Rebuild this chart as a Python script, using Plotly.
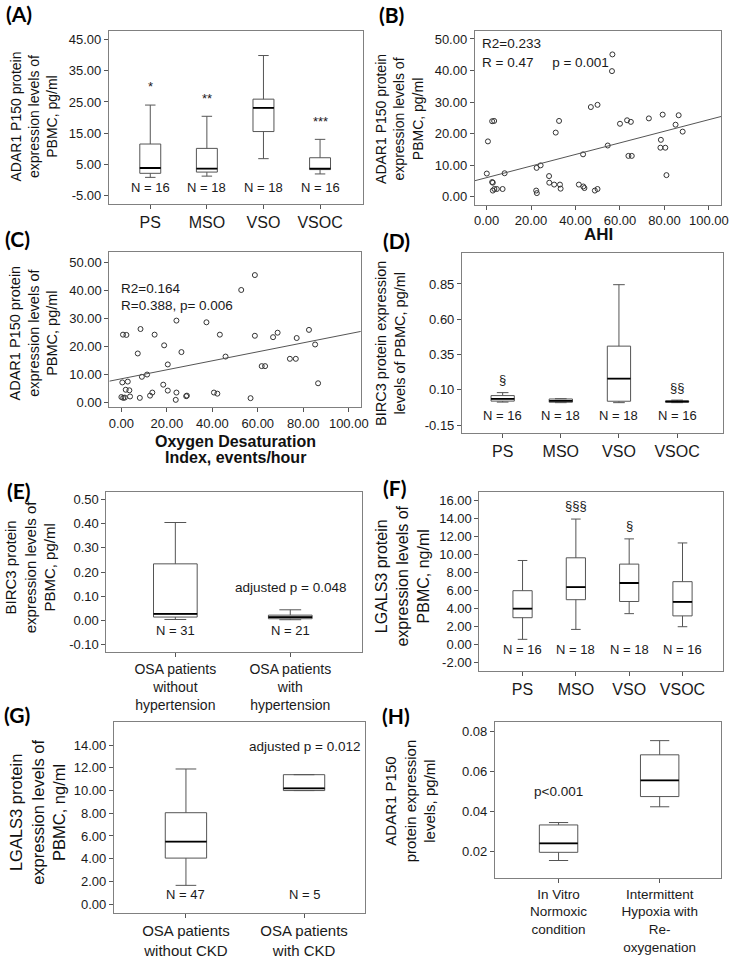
import numpy as np
import plotly.graph_objects as go

W, H = 733, 959
FONT = "Liberation Sans, Arial, sans-serif"
LABEL_FONT = "Lato, Open Sans, sans-serif"

# ------------------------------------------------------------------ data
groups4 = ["PS", "MSO", "VSO", "VSOC"]
n_groups4 = ["N = 16", "N = 18", "N = 18", "N = 16"]

# (A) ADAR1 P150 (pg/ml) by severity group
a_low = [0.8, 1.2, 6.8, 1.9]
a_q1 = [2.1, 2.5, 15.5, 3.3]
a_med = [3.8, 3.6, 23.1, 3.6]
a_q3 = [11.5, 10.1, 25.9, 7.1]
a_high = [24.0, 20.4, 39.9, 13.0]
a_sig = ["*", "**", "", "***"]

# (B) ADAR1 P150 vs AHI
b_ahi = [2.5, 3.4, 0.6, 0.1, 2.5, 2.8, 2.8, 3.5, 4.6, 7.2,
         8.1, 22.5, 24.3, 22.3, 22.6, 28.1, 28.2, 30.4, 33.0, 33.3,
         31.1, 32.6, 41.5, 43.5, 44.0, 43.4, 46.9, 48.7, 49.9, 49.9,
         56.6, 56.4, 60.0, 63.2, 64.9, 73.0, 79.2, 86.4, 85.0, 88.2,
         78.4, 78.2, 80.4, 54.5, 63.8, 65.3, 80.9]
b_adar = [23.9, 24.0, 17.5, 7.3, 4.6, 4.4, 1.9, 2.4, 2.4, 2.4,
          7.4, 9.1, 9.9, 1.9, 1.1, 6.5, 4.4, 3.8, 3.8, 2.5,
          20.3, 24.0, 3.8, 3.2, 2.7, 13.4, 28.4, 1.9, 2.4, 29.1,
          45.1, 39.8, 23.1, 24.2, 23.7, 24.8, 26.0, 25.8, 22.8, 20.6,
          18.0, 15.5, 15.5, 16.2, 12.9, 12.9, 6.8]
b_fit = [6.0, 0.184]  # intercept, slope
b_stats = ["R2=0.233", "R = 0.47\u00a0\u00a0\u00a0\u00a0\u00a0p = 0.001"]

# (C) ADAR1 P150 vs Oxygen Desaturation Index
c_odi = [0.7, 2.2, 8.4, 14.6, 24.2, 37.4, 43.3, 18.8, 7.2, 26.4,
         45.8, 20.4, 9.0, 11.3, 0.4, 2.8, 1.9, 3.5, 0.0, 0.8,
         1.5, 3.8, 8.1, 12.6, 13.6, 18.4, 20.4, 24.2, 23.9, 28.8,
         28.5, 40.7, 42.2, 58.7, 52.7, 58.7, 66.7, 68.7, 77.1, 82.5,
         85.2, 74.1, 76.7, 61.7, 63.2, 86.5, 56.8]
c_adar = [24.2, 24.1, 26.2, 24.2, 29.2, 28.6, 24.2, 20.4, 17.5, 18.0,
          16.4, 13.6, 9.2, 10.0, 7.2, 7.5, 4.6, 4.4, 2.0, 1.7,
          1.8, 2.2, 1.7, 2.5, 3.6, 6.4, 4.3, 3.6, 1.0, 2.5,
          2.3, 3.6, 3.2, 45.4, 40.1, 23.8, 23.3, 24.9, 23.0, 25.9,
          20.7, 15.6, 15.6, 13.0, 13.0, 6.9, 1.6]
c_fit = [8.5, 0.160]
c_stats = ["R2=0.164", "R=0.388, p= 0.006"]

# (D) BIRC3 (pg/ml) by severity group
d_low = [0.014, 0.010, 0.010, 0.010]
d_q1 = [0.021, 0.013, 0.020, 0.014]
d_med = [0.037, 0.022, 0.180, 0.018]
d_q3 = [0.060, 0.036, 0.410, 0.021]
d_high = [0.081, 0.038, 0.845, 0.028]
d_sig = ["§", "", "", "§§"]

# (E) BIRC3 by hypertension
e_groups = ["OSA patients<br>without<br>hypertension", "OSA patients<br>with<br>hypertension"]
e_n = ["N = 31", "N = 21"]
e_low = [0.004, 0.003]
e_q1 = [0.014, 0.007]
e_med = [0.027, 0.014]
e_q3 = [0.234, 0.022]
e_high = [0.405, 0.044]
e_p = "adjusted p = 0.048"

# (F) LGALS3 (ng/ml) by severity group
f_low = [0.6, 1.7, 3.45, 2.0]
f_q1 = [3.0, 5.0, 4.8, 3.2]
f_med = [4.0, 6.4, 6.85, 4.75]
f_q3 = [6.0, 9.65, 8.95, 7.0]
f_high = [9.35, 13.95, 11.75, 11.3]
f_sig = ["", "§§§", "§", ""]

# (G) LGALS3 by CKD
g_groups = ["OSA patients<br>without CKD", "OSA patients<br>with CKD"]
g_n = ["N = 47", "N = 5"]
g_low = [1.65, 10.0]
g_q1 = [4.05, 10.0]
g_med = [5.5, 10.2]
g_q3 = [8.05, 11.4]
g_high = [11.9, 11.4]
g_p = "adjusted p = 0.012"

# (H) ADAR1 P150 in vitro
h_groups = ["In Vitro<br>Normoxic<br>condition", "Intermittent<br>Hypoxia with<br>Re-<br>oxygenation"]
h_low = [0.0154, 0.0423]
h_q1 = [0.0195, 0.0474]
h_med = [0.0240, 0.0555]
h_q3 = [0.0332, 0.0683]
h_high = [0.0344, 0.0754]
h_p = "p<0.001"

# ------------------------------------------------------------------ helpers
fig = go.Figure()
layout = dict(width=W, height=H, margin=dict(l=0, r=0, t=0, b=0),
              paper_bgcolor="white", plot_bgcolor="white", showlegend=False)
annotations = []

LINE = "#555555"
FRAME = "#808080"
TXT = "#1a1a1a"


def ids(k):
    s = "" if k == 1 else str(k)
    return "x" + s, "y" + s, "xaxis" + s, "yaxis" + s


def num_ticks(start, stop, step):
    vals = np.round(np.arange(start, stop + step / 2, step), 6)
    return [float(v) for v in vals], ["{:.2f}".format(v) for v in vals]


def make_axes(k, px, py, xr, yr, yt, xt=None, cat=None, catsize=16):
    xa, ya, xkey, ykey = ids(k)
    base = dict(showline=True, linecolor=FRAME, linewidth=1, mirror=True,
                ticks="outside", ticklen=4, tickcolor="#555", showgrid=False,
                zeroline=False, fixedrange=True,
                tickfont=dict(family=FONT, size=13, color=TXT))
    xd = [px[0] / W, px[1] / W]
    yd = [1 - py[1] / H, 1 - py[0] / H]
    yv, ytx = num_ticks(*yt)
    xaxis = dict(base, domain=xd, range=xr, anchor=ya)
    if cat is not None:
        xaxis.update(tickvals=list(range(len(cat))), ticktext=cat,
                     tickfont=dict(family=FONT, size=catsize, color=TXT))
    else:
        xv, xtx = num_ticks(*xt)
        xaxis.update(tickvals=xv, ticktext=xtx)
    yaxis = dict(base, domain=yd, range=yr, anchor=xa, tickvals=yv, ticktext=ytx)
    layout[xkey] = xaxis
    layout[ykey] = yaxis


def add_box(k, lo, q1, med, q3, hi, width):
    xa, ya, _, _ = ids(k)
    xs = list(range(len(med)))
    fig.add_trace(go.Box(x=xs, q1=q1, median=med, q3=q3, lowerfence=lo, upperfence=hi,
                         width=width, whiskerwidth=0.5, fillcolor="white",
                         line=dict(color=LINE, width=1), boxpoints=False,
                         hoverinfo="skip", xaxis=xa, yaxis=ya))
    mx, my = [], []
    for x, m in zip(xs, med):
        mx += [x - width / 2, x + width / 2, None]
        my += [m, m, None]
    fig.add_trace(go.Scatter(x=mx, y=my, mode="lines", line=dict(color="black", width=1.8),
                             hoverinfo="skip", xaxis=xa, yaxis=ya))


def add_text(k, x, y, text, size=13, xanchor="center", color=TXT):
    xa, ya, _, _ = ids(k)
    annotations.append(dict(x=x, y=y, xref=xa, yref=ya, text=text, showarrow=False,
                            xanchor=xanchor, yanchor="middle",
                            font=dict(family=FONT, size=size, color=color)))


def add_n(k, labels, yv):
    for i, t in enumerate(labels):
        add_text(k, i, yv, t, size=13)


def add_sig(k, marks, hi, offset):
    for i, (m, h) in enumerate(zip(marks, hi)):
        if m:
            add_text(k, i, h + offset, m, size=13)


def paper_text(px, py, text, size, bold=False, angle=0, family=FONT, color="#111"):
    annotations.append(dict(x=px / W, y=1 - py / H, xref="paper", yref="paper", text=text,
                            showarrow=False, xanchor="center", yanchor="middle",
                            textangle=angle,
                            font=dict(family=family, size=size, color=color,
                                      weight="bold" if bold else "normal")))


def add_scatter(k, xv, yv, fit, xr):
    xa, ya, _, _ = ids(k)
    fig.add_trace(go.Scatter(x=xv, y=yv, mode="markers",
                             marker=dict(symbol="circle-open", size=5,
                                         line=dict(color="#333", width=1), color="#333"),
                             hoverinfo="skip", xaxis=xa, yaxis=ya))
    lx = [xr[0], xr[1]]
    ly = [fit[0] + fit[1] * v for v in lx]
    fig.add_trace(go.Scatter(x=lx, y=ly, mode="lines", line=dict(color="#555", width=1),
                             hoverinfo="skip", xaxis=xa, yaxis=ya))


# ------------------------------------------------------------------ panel A
xrA = [-0.73, 3.75]
make_axes(1, (109.3, 366), (31, 205.7), xrA, [-7.67, 47.86], (-5, 45, 10), cat=groups4)
add_box(1, a_low, a_q1, a_med, a_q3, a_high, 0.37)
add_n(1, n_groups4, -2.36)
add_sig(1, a_sig, a_high, 5.8)
paper_text(33, 118, "ADAR1 P150 protein<br>expression levels of<br>PBMC, pg/ml", 14, angle=-90)
paper_text(18, 14, "(A)", 21, bold=True, family=LABEL_FONT, color="#000")

# ------------------------------------------------------------------ panel B
xrB = [-5.3, 105.6]
make_axes(2, (479.7, 729.3), (31.7, 206.7), xrB, [-2.6, 52.4], (0, 50, 10), xt=(0, 100, 20))
add_scatter(2, b_ahi, b_adar, b_fit, xrB)
add_text(2, -2.8, 48.5, b_stats[0], size=13.5, xanchor="left")
add_text(2, -2.8, 42.4, b_stats[1], size=13.5, xanchor="left")
paper_text(403, 120, "ADAR1 P150 protein<br>expression levels of<br>PBMC, pg/ml", 14, angle=-90)
paper_text(604.5, 237, "AHI", 17, bold=True)
paper_text(395, 15, "(B)", 21, bold=True, family=LABEL_FONT, color="#000")

# ------------------------------------------------------------------ panel C
xrC = [-5.3, 105.3]
make_axes(3, (109.7, 364.3), (254.7, 411.3), xrC, [-1.7, 53.5], (0, 50, 10), xt=(0, 100, 20))
add_scatter(3, c_odi, c_adar, c_fit, xrC)
add_text(3, -1.0, 40.6, c_stats[0], size=13.5, xanchor="left")
add_text(3, -1.0, 34.4, c_stats[1], size=13.5, xanchor="left")
paper_text(33, 336, "ADAR1 P150 protein<br>expression levels of<br>PBMC, pg/ml", 14.5, angle=-90)
paper_text(237, 446, "Oxygen Desaturation", 16, bold=True)
paper_text(237, 462, "Index, events/hour", 16, bold=True)
paper_text(17, 241, "(C)", 21, bold=True, family=LABEL_FONT, color="#000")

# ------------------------------------------------------------------ panel D
make_axes(4, (466.7, 731), (255, 436.7), [-0.70, 3.79], [-0.202, 1.072], (-0.15, 0.85, 0.25), cat=groups4)
add_box(4, d_low, d_q1, d_med, d_q3, d_high, 0.40)
add_n(4, n_groups4, -0.079)
add_sig(4, d_sig, d_high, 0.09)
paper_text(395, 347, "BIRC3 protein expression<br>levels of PBMC, pg/ml", 14.5, angle=-90)
paper_text(400, 243, "(D)", 21, bold=True, family=LABEL_FONT, color="#000")

# ------------------------------------------------------------------ panel E
make_axes(5, (106.7, 365), (496.7, 658.3), [-0.60, 1.62], [-0.131, 0.531], (-0.10, 0.50, 0.10),
          cat=e_groups, catsize=14)
add_box(5, e_low, e_q1, e_med, e_q3, e_high, 0.38)
add_n(5, e_n, -0.04)
add_text(5, 1, 0.137, e_p, size=13.5)
paper_text(29, 572, "BIRC3 protein<br>expression levels of<br>PBMC, pg/ml", 15, angle=-90)
paper_text(18, 495, "(E)", 21, bold=True, family=LABEL_FONT, color="#000")

# ------------------------------------------------------------------ panel F
make_axes(6, (484.3, 731), (496.7, 677.3), [-0.81, 3.76], [-2.91, 16.95], (-2, 16, 2), cat=groups4)
add_box(6, f_low, f_q1, f_med, f_q3, f_high, 0.36)
add_n(6, n_groups4, -0.5)
add_sig(6, f_sig, f_high, 1.5)
paper_text(407, 582, "LGALS3 protein<br>expression levels of<br>PBMC, ng/ml", 16, angle=-90)
paper_text(398, 492, "(F)", 21, bold=True, family=LABEL_FONT, color="#000")

# ------------------------------------------------------------------ panel G
make_axes(7, (114.3, 369), (729.3, 921.7), [-0.61, 1.52], [-0.79, 16.0], (0, 14, 2),
          cat=g_groups, catsize=15)
add_box(7, g_low, g_q1, g_med, g_q3, g_high, 0.35)
add_n(7, g_n, 0.81)
add_text(7, 1, 13.9, g_p, size=13.5)
paper_text(37, 820, "LGALS3 protein<br>expression levels of<br>PBMC, ng/ml", 16.5, angle=-90)
paper_text(16, 721, "(G)", 21, bold=True, family=LABEL_FONT, color="#000")

# ------------------------------------------------------------------ panel H
make_axes(8, (500, 729.3), (729.3, 886), [-0.63, 1.61], [0.0068, 0.0845], (0.02, 0.08, 0.02),
          cat=h_groups, catsize=13.5)
add_box(8, h_low, h_q1, h_med, h_q3, h_high, 0.38)
add_text(8, 0, 0.0498, h_p, size=13.5)
paper_text(415, 808, "ADAR1 P150<br>protein expression<br>levels, pg/ml", 15, angle=-90)
paper_text(400, 722, "(H)", 21, bold=True, family=LABEL_FONT, color="#000")

layout["annotations"] = annotations
fig.update_layout(**layout)
fig.write_html("out.html", config={"displayModeBar": False},
               post_script="document.body.style.margin='0px';")
